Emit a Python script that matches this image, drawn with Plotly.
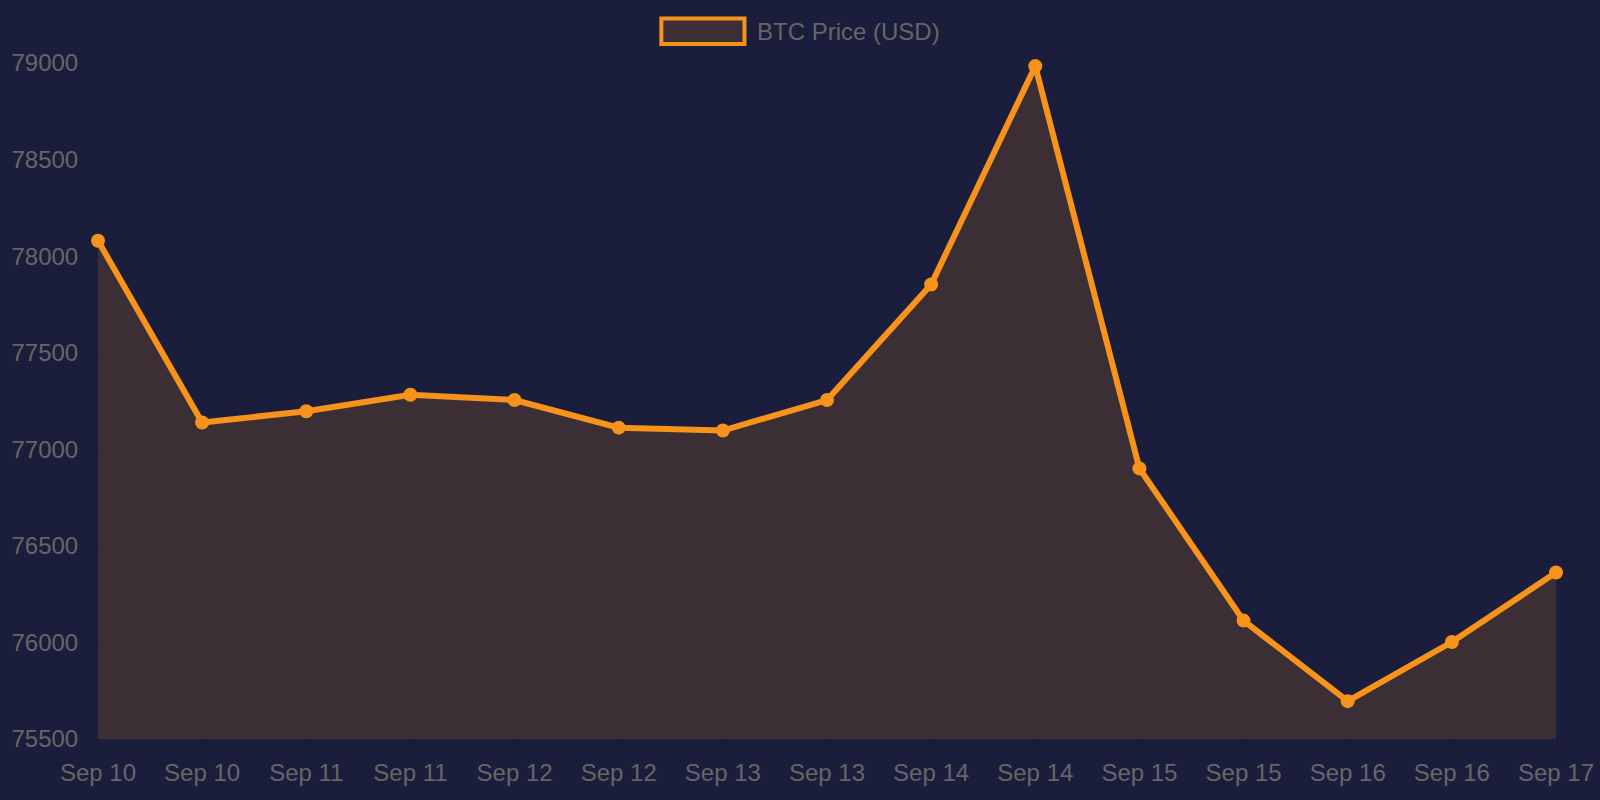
import plotly.graph_objects as go

# BTC price readings (two per day)
tick_labels = ["Sep 10", "Sep 10", "Sep 11", "Sep 11", "Sep 12", "Sep 12", "Sep 13",
               "Sep 13", "Sep 14", "Sep 14", "Sep 15", "Sep 15", "Sep 16", "Sep 16", "Sep 17"]
prices = [78080, 77139, 77197, 77282, 77255, 77112, 77097,
          77255, 77853, 78984, 76901, 76113, 75696, 76002, 76362]
y_ticks = [75500, 76000, 76500, 77000, 77500, 78000, 78500, 79000]
series_name = "BTC Price (USD)"

orange = "#f7931a"
bg = "#1a1e3c"
fill = "#3b2e35"
text_col = "#666666"
grid_col = "#171a36"

idx = list(range(len(prices)))

fig = go.Figure()

fig.add_trace(go.Scatter(
    x=idx, y=prices,
    mode="lines+markers",
    fill="tozeroy",
    fillcolor=fill,
    line=dict(color=orange, width=6),
    marker=dict(color=orange, size=14),
    cliponaxis=False,
    showlegend=False,
))

# chart.js style legend box above the plot
fig.add_shape(type="rect", xref="paper", yref="paper",
              x0=0.3864, x1=0.4434, y0=1.0281, y1=1.066,
              fillcolor=fill, line=dict(color=orange, width=4))
fig.add_annotation(text=series_name, xref="paper", yref="paper",
                   x=0.4509, y=1.0464, xanchor="left", yanchor="middle",
                   showarrow=False, font=dict(size=24, color=text_col))

fig.update_layout(
    width=1600, height=800,
    paper_bgcolor=bg, plot_bgcolor=bg,
    margin=dict(l=98, r=44, t=63, b=61),
    font=dict(family="Liberation Sans, Arial, sans-serif", size=24, color=text_col),
    showlegend=False,
    xaxis=dict(
        range=[0, len(prices) - 1],
        tickmode="array", tickvals=idx, ticktext=tick_labels,
        showgrid=True, gridcolor=grid_col, gridwidth=1,
        zeroline=False, showline=False, automargin=False,
        ticks="outside", ticklen=12, tickcolor=grid_col,
    ),
    yaxis=dict(
        range=[75500, 79000],
        tickmode="array", tickvals=y_ticks, tickformat="d",
        showgrid=True, gridcolor=grid_col, gridwidth=1,
        zeroline=False, showline=False, automargin=False,
        ticks="outside", ticklen=10, tickcolor=grid_col,
        ticklabelstandoff=4,
    ),
)

fig.write_html("out.html", config={"displayModeBar": False},
               post_script="document.body.style.margin='0';")
